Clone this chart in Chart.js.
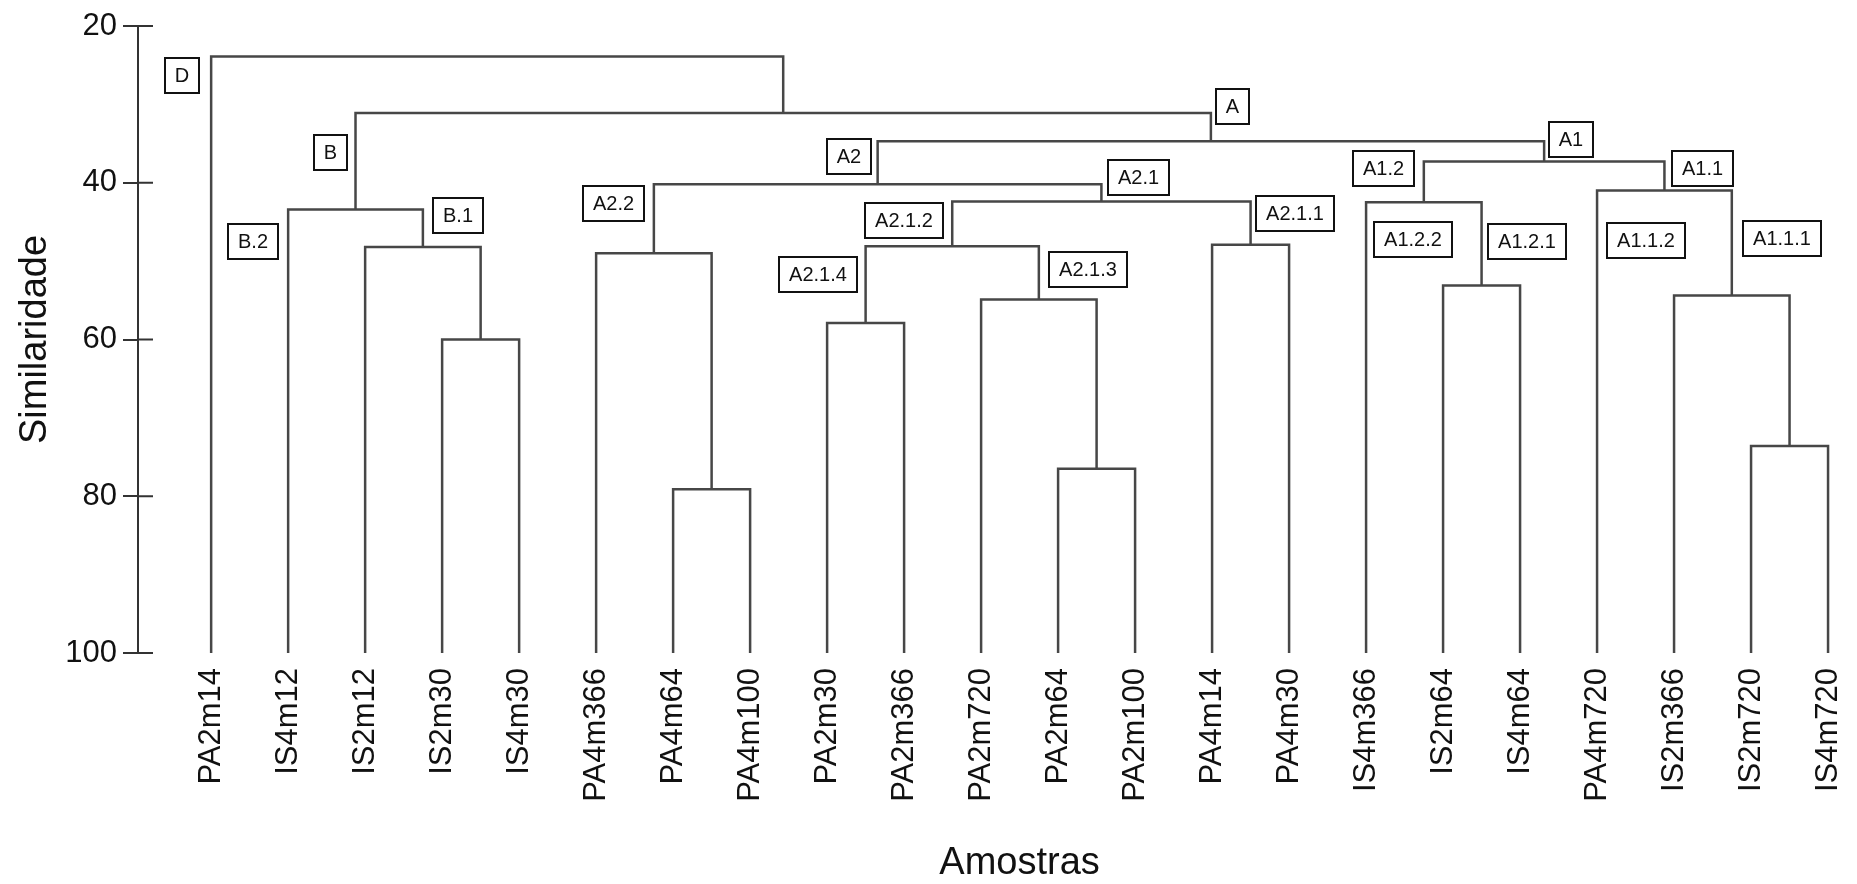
<!DOCTYPE html>
<html>
<head>
<meta charset="utf-8">
<script src="https://cdn.jsdelivr.net/npm/chart.js@4.4.1/dist/chart.umd.min.js"></script>
<style>
  html, body { margin: 0; padding: 0; background: #fff; }
</style>
</head>
<body>
<canvas id="myChart" width="1857" height="884"></canvas>
<script>
// leaves of the dendrogram, left to right
var leaves = ['PA2m14', 'IS4m12', 'IS2m12', 'IS2m30', 'IS4m30', 'PA4m366', 'PA4m64', 'PA4m100',
              'PA2m30', 'PA2m366', 'PA2m720', 'PA2m64', 'PA2m100', 'PA4m14', 'PA4m30',
              'IS4m366', 'IS2m64', 'IS4m64', 'PA4m720', 'IS2m366', 'IS2m720', 'IS4m720'];

// merges: a number is a leaf index, 'mK' is merge K
var mergeLeft   = [3, 2, 1, 6, 5, 8, 11, 10, 'm5', 13, 'm8', 'm4', 16, 15, 20, 19, 18, 'm13', 'm11', 'm2', 0];
var mergeRight  = [4, 'm0', 'm1', 7, 'm3', 9, 12, 'm6', 'm7', 14, 'm9', 'm10', 17, 'm12', 21, 'm14', 'm15', 'm16', 'm17', 'm18', 'm19'];
var mergeHeight = [60.0, 48.2, 43.4, 79.1, 49.0, 57.9, 76.5, 54.9, 48.1, 47.9, 42.4, 40.2, 53.1, 42.5, 73.6, 54.4, 41.0, 37.3, 34.7, 31.1, 23.9];

var yTicks = [20, 40, 60, 80, 100];

// group names and the branch each one names
var groupNames = ['D', 'B', 'B.2', 'B.1', 'A', 'A2', 'A1', 'A2.2', 'A2.1', 'A2.1.2', 'A2.1.1',
                  'A2.1.4', 'A2.1.3', 'A1.2', 'A1.1', 'A1.2.2', 'A1.2.1', 'A1.1.2', 'A1.1.1'];
var groupNode = [0, 'm2', 1, 'm1', 'm18', 'm11', 'm17', 'm4', 'm10', 'm8', 'm9',
                 'm5', 'm7', 'm13', 'm16', 15, 'm12', 18, 'm15'];
// box offset (px) from the top of the branch
var groupOffset = [[-29, 19], [-25, 40], [-35, 32], [35, 6], [22, -6], [-29, 15], [27, -2], [-40, 19],
                   [37, -7], [-48, 19], [44, 12], [-48, 28], [49, 23], [-40, 7], [38, 7],
                   [47, 37], [45, 39], [49, 50], [50, 48]];

function nodeX(ref) {
    if (typeof ref === 'number') return ref;
    var k = +ref.slice(1);
    return (nodeX(mergeLeft[k]) + nodeX(mergeRight[k])) / 2;
}
function nodeH(ref) {
    return typeof ref === 'number' ? 100 : mergeHeight[+ref.slice(1)];
}
function parentH(ref) {
    for (var k = 0; k < mergeLeft.length; k++) {
        if (mergeLeft[k] === ref || mergeRight[k] === ref) return mergeHeight[k];
    }
    return nodeH(ref);
}

var lineColor = '#474747';
var fontFamily = '"Liberation Sans", Arial, sans-serif';

var datasets = mergeLeft.map(function(l, k) {
    var r = mergeRight[k], h = mergeHeight[k];
    return {
        data: [
            {x: nodeX(l), y: nodeH(l)},
            {x: nodeX(l), y: h},
            {x: nodeX(r), y: h},
            {x: nodeX(r), y: nodeH(r)}
        ],
        borderColor: lineColor,
        borderWidth: 2.5,
        pointRadius: 0,
        tension: 0,
        fill: false
    };
});

// boxed group names, inner half of the y ticks, x title centred under the leaves
var groupBoxes = {
    id: 'groupBoxes',
    afterDraw: function(chart) {
        var ctx = chart.ctx, xs = chart.scales.x, ys = chart.scales.y;
        var left = chart.chartArea.left;
        ctx.save();
        ctx.strokeStyle = '#333';
        ctx.lineWidth = 2;
        yTicks.forEach(function(v) {
            var py = ys.getPixelForValue(v);
            ctx.beginPath();
            ctx.moveTo(left, py);
            ctx.lineTo(left + 15, py);
            ctx.stroke();
        });

        ctx.font = '20px ' + fontFamily;
        ctx.textAlign = 'center';
        ctx.textBaseline = 'middle';
        groupNames.forEach(function(t, i) {
            var ref = groupNode[i];
            var cx = xs.getPixelForValue(nodeX(ref)) + groupOffset[i][0];
            var cy = ys.getPixelForValue(parentH(ref)) + groupOffset[i][1];
            var w = Math.round(ctx.measureText(t).width + 20), h = 35;
            var bx = Math.round(cx - w / 2), by = Math.round(cy - h / 2);
            ctx.fillStyle = '#fff';
            ctx.fillRect(bx, by, w, h);
            ctx.strokeStyle = '#111';
            ctx.lineWidth = 2;
            ctx.strokeRect(bx, by, w, h);
            ctx.fillStyle = '#111';
            ctx.fillText(t, bx + w / 2, by + h / 2 + 1);
        });

        ctx.font = '38px ' + fontFamily;
        ctx.fillStyle = '#111';
        ctx.fillText('Amostras', xs.getPixelForValue((leaves.length - 1) / 2), xs.bottom - 20);
        ctx.restore();
    }
};

var ctx = document.getElementById('myChart').getContext('2d');
var myChart = new Chart(ctx, {
    type: 'line',
    data: { datasets: datasets },
    plugins: [groupBoxes],
    options: {
        responsive: false,
        animation: false,
        layout: { padding: { top: 26, right: 2, left: 0, bottom: 0 } },
        plugins: {
            legend: { display: false },
            tooltip: { enabled: false }
        },
        scales: {
            x: {
                type: 'linear',
                min: -0.95,
                max: 21.35,
                afterBuildTicks: function(scale) {
                    scale.ticks = leaves.map(function(_, i) { return {value: i}; });
                },
                afterFit: function(scale) {
                    scale.height = 231;
                    scale.paddingLeft = 0;
                    scale.paddingRight = 0;
                },
                grid: { display: false, drawTicks: false },
                border: { display: false },
                ticks: {
                    autoSkip: false,
                    minRotation: 90,
                    maxRotation: 90,
                    padding: 15,
                    color: '#111',
                    font: { family: fontFamily, size: 31 },
                    callback: function(v) { return leaves[v]; }
                }
            },
            y: {
                min: 20,
                max: 100,
                reverse: true,
                afterFit: function(scale) { scale.width = 138; },
                afterBuildTicks: function(scale) {
                    scale.ticks = yTicks.map(function(v) { return {value: v}; });
                },
                grid: {
                    drawOnChartArea: false,
                    drawTicks: true,
                    tickLength: 15,
                    color: '#333',
                    lineWidth: 2
                },
                border: { display: true, color: '#333', width: 2 },
                ticks: {
                    padding: 6,
                    color: '#111',
                    font: { family: fontFamily, size: 31 }
                },
                title: {
                    display: true,
                    text: 'Similaridade',
                    color: '#111',
                    font: { family: fontFamily, size: 38 },
                    padding: { top: 13, bottom: 0 }
                }
            }
        }
    }
});
</script>
</body>
</html>
